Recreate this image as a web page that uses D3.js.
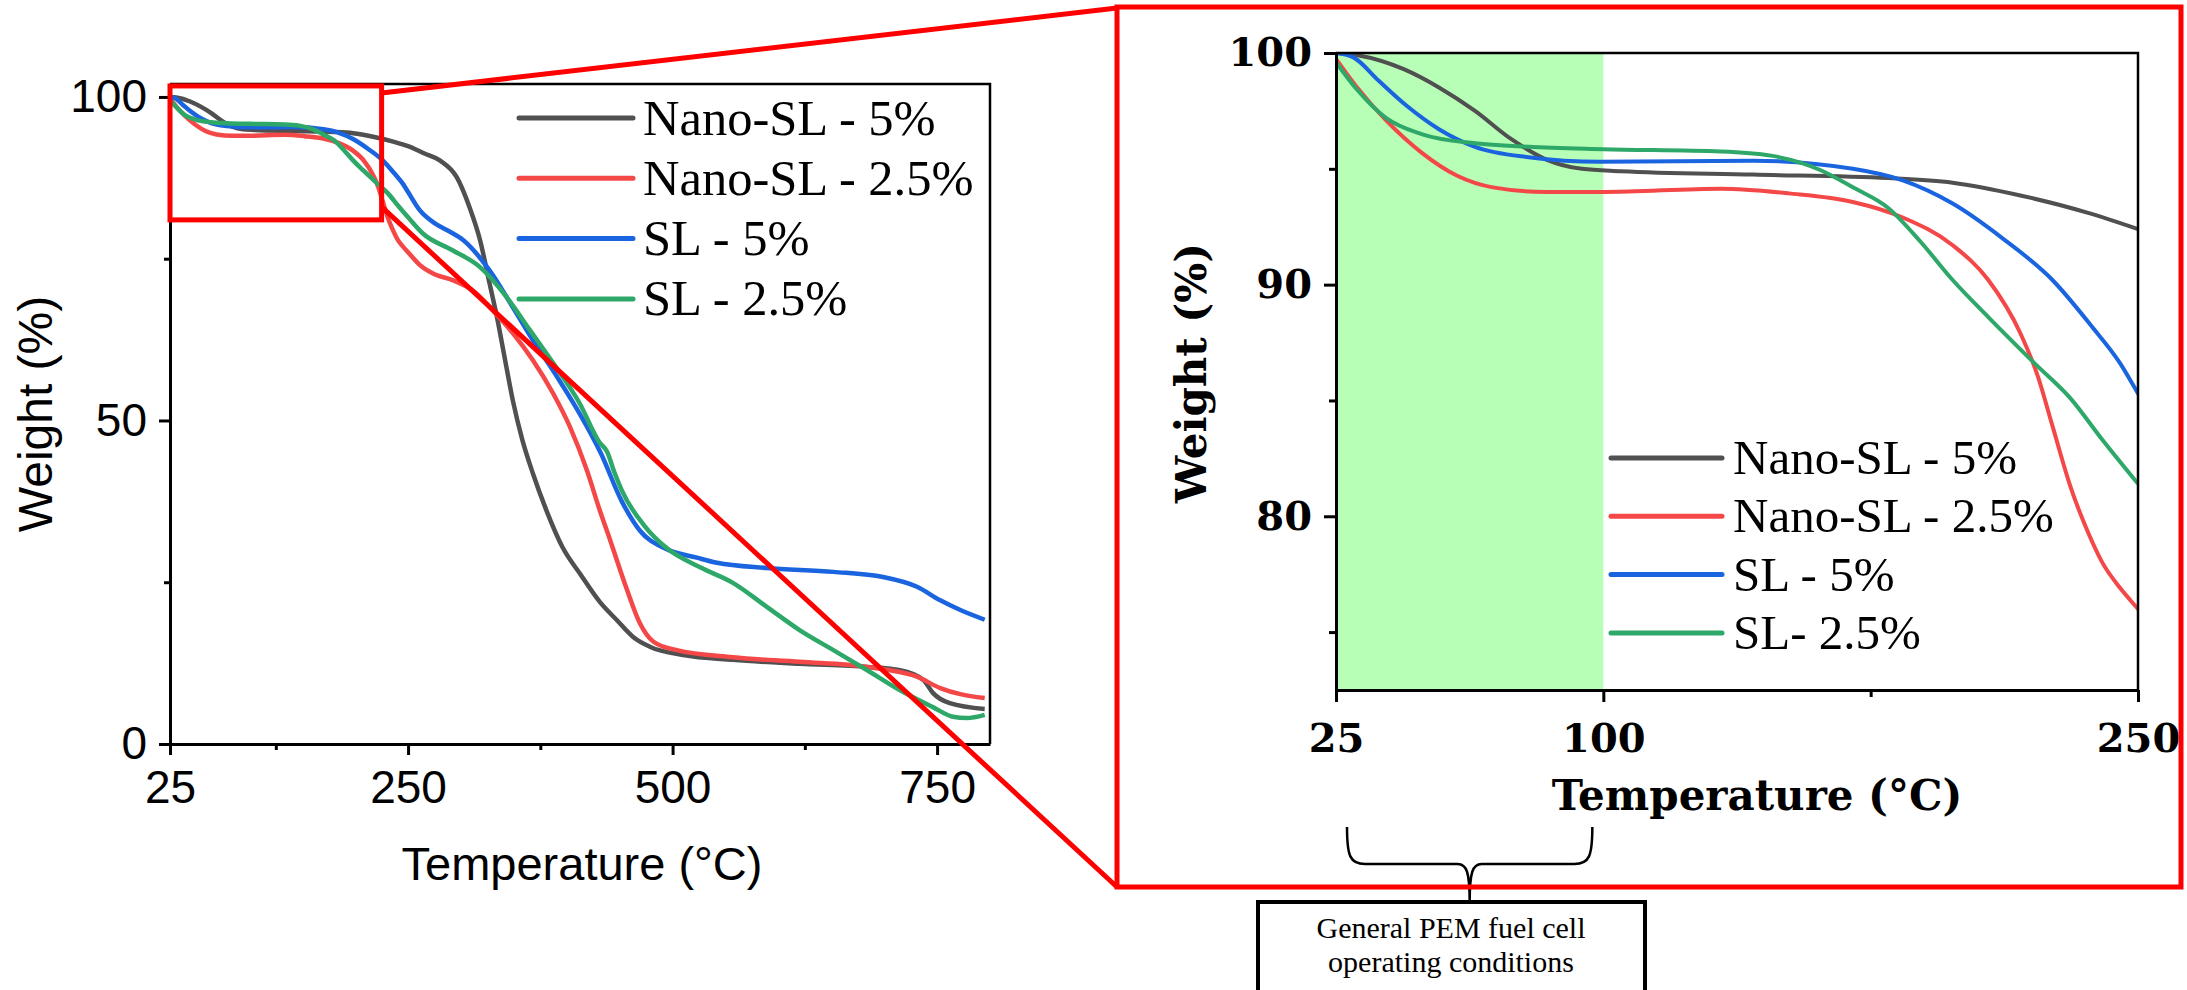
<!DOCTYPE html>
<html>
<head>
<meta charset="utf-8">
<script src="https://cdn.jsdelivr.net/npm/d3@7"></script>
<style>
  body { margin: 0; background: #fff; }
</style>
</head>
<body>
<svg id="chart" width="2187" height="990"></svg>
<script>
// series: [temperature (°C), weight (%)]
const seriesNames = ['Nano-SL - 5%', 'Nano-SL - 2.5%', 'SL - 5%', 'SL - 2.5%'];
const insetNames = ['Nano-SL - 5%', 'Nano-SL - 2.5%', 'SL - 5%', 'SL- 2.5%'];
const seriesColors = ['#505050', '#f44848', '#1a64e0', '#2ea868'];

const nanoSL5 = [[25,100],[31,99.9],[44,99.3],[54,98.5],[64,97.5],[74,96.3],[84,95.4],[94,95.0],[105,94.9],
  [142,94.75],[180,94.6],[198,94.4],[217,93.85],[236,93.1],[250,92.4],[265,91.3],[280,90.2],[296,87.6],
  [308,83.0],[318,77.9],[327,71.2],[334,66.0],[343,58.2],[349,53.1],[358,47.0],[368,41.8],[381,36.0],
  [396,30.4],[413,26.2],[431,22.0],[447,19.2],[463,16.5],[479,15.0],[510,13.75],[557,13.0],[620,12.4],
  [684,11.9],[715,11.4],[737,9.9],[746,7.9],[762,6.3],[795,5.4]];

const nanoSL25 = [[25,99.75],[31,98.5],[39,97.1],[49,95.7],[59,94.7],[69,94.2],[84,94.0],[100,94.0],[133,94.14],
  [152,93.94],[170,93.57],[184,92.9],[198,91.7],[208,90.2],[217,87.9],[222,86.0],[226,83.9],[231,81.3],
  [236,79.3],[240,78.0],[245,76.9],[250,76.0],[262,73.9],[275,72.6],[292,71.7],[311,70.1],[330,67.0],[349,63.5],
  [368,59.3],[387,54.2],[403,49.0],[419,42.3],[431,36.2],[441,31.5],[457,23.8],[469,18.7],[482,15.8],
  [504,14.5],[557,13.4],[620,12.7],[684,11.9],[731,10.4],[753,8.65],[772,7.7],[795,7.1]];

const sl5 = [[25,100],[30,99.8],[37,98.8],[45,97.7],[54,96.7],[64,95.95],[79,95.5],[99,95.3],[142,95.35],
  [170,95.0],[184,94.5],[198,93.5],[212,92.0],[226,90.2],[237,88.2],[245,86.6],[250,85.3],[261,82.5],
  [275,80.5],[287,79.4],[302,77.9],[327,73.2],[349,67.5],[368,62.4],[391,56.7],[412,51.1],[432,45.0],
  [452,37.5],[469,33.0],[493,30.2],[523,28.8],[542,28.0],[589,27.2],[652,26.6],[699,25.8],[731,24.3],
  [753,22.2],[772,20.7],[795,19.2]];

const sl25 = [[25,99.6],[31,98.4],[39,97.2],[49,96.5],[64,96.1],[79,95.95],[100,95.85],[133,95.75],[147,95.57],
  [161,94.94],[170,94.2],[180,93.3],[189,91.85],[198,90.2],[208,88.6],[221,86.6],[231,85.1],[240,83.3],
  [250,81.4],[264,78.9],[292,76.3],[318,73.7],[343,69.1],[365,64.0],[387,58.9],[412,52.7],[431,46.6],
  [438,45.2],[445,42.0],[452,39.2],[474,33.6],[495,30.2],[526,27.3],[557,24.9],[589,21.2],[620,17.6],
  [652,14.5],[684,11.4],[715,8.3],[746,5.7],[765,4.2],[778,4.0],[795,4.5]];

const allSeries = [nanoSL5, nanoSL25, sl5, sl25];

const xTicksMain = [25, 250, 500, 750];
const xMinorMain = [125, 375, 625];
const yTicksMain = [0, 50, 100];
const yMinorMain = [25, 75];

const xTicksInset = [25, 100, 250];
const xMinorInset = [175];
const yTicksInset = [80, 90, 100];
const yMinorInset = [75, 85, 95];

// PEM operating window and the zoomed region of the main plot
const pemRange = [25, 100];
const zoomBox = { t0: 25, t1: 225, w0: 81, w1: 101.7 };

const sansFont = '"Liberation Sans", Arial, sans-serif';
const serifFont = '"Liberation Serif", "Times New Roman", serif';
const boldSerif = '"DejaVu Serif", Georgia, serif';

const svg = d3.select('#chart');
const defs = svg.append('defs');

// ---------- main plot ----------
const xL = d3.scaleLinear().domain([25, 800]).range([170, 990]);
const yL = d3.scaleLinear().domain([0, 102]).range([744, 84]);

defs.append('clipPath').attr('id', 'clipL').append('rect')
  .attr('x', 170).attr('y', 84).attr('width', 820).attr('height', 660);

const lineL = d3.line().x(d => xL(d[0])).y(d => yL(d[1])).curve(d3.curveMonotoneX);

const gL = svg.append('g');
gL.append('g').attr('clip-path', 'url(#clipL)')
  .selectAll('path')
  .data(allSeries)
  .enter()
  .append('path')
  .attr('fill', 'none')
  .attr('stroke', (d, i) => seriesColors[i])
  .attr('stroke-width', 4.5)
  .attr('stroke-linejoin', 'round')
  .attr('d', lineL);

// frame top / right
gL.append('path')
  .attr('d', `M170,84H990V744`)
  .attr('fill', 'none').attr('stroke', '#000').attr('stroke-width', 2.5);

function styleAxis(g, font, size, weight) {
  g.select('.domain').attr('stroke', '#000').attr('stroke-width', 3);
  g.selectAll('.tick line').attr('stroke', '#000').attr('stroke-width', 3);
  g.selectAll('.tick text')
    .attr('fill', '#000')
    .attr('font-family', font)
    .attr('font-size', size)
    .attr('font-weight', weight);
}

const axBL = gL.append('g').attr('transform', 'translate(0,744)')
  .call(d3.axisBottom(xL).tickValues(xTicksMain).tickSize(11).tickSizeOuter(0).tickPadding(15).tickFormat(d3.format('d')));
styleAxis(axBL, sansFont, 46, 'normal');
const axBLm = gL.append('g').attr('transform', 'translate(0,744)')
  .call(d3.axisBottom(xL).tickValues(xMinorMain).tickSize(6).tickFormat(''));
axBLm.select('.domain').remove();
axBLm.selectAll('.tick line').attr('stroke-width', 3);

const axLL = gL.append('g').attr('transform', 'translate(170,0)')
  .call(d3.axisLeft(yL).tickValues(yTicksMain).tickSize(11).tickSizeOuter(0).tickPadding(12).tickFormat(d3.format('d')));
styleAxis(axLL, sansFont, 46, 'normal');
const axLLm = gL.append('g').attr('transform', 'translate(170,0)')
  .call(d3.axisLeft(yL).tickValues(yMinorMain).tickSize(6).tickFormat(''));
axLLm.select('.domain').remove();
axLLm.selectAll('.tick line').attr('stroke-width', 3);

gL.append('text')
  .attr('x', 582).attr('y', 880)
  .attr('text-anchor', 'middle')
  .attr('font-family', sansFont).attr('font-size', 47)
  .text('Temperature (°C)');

gL.append('text')
  .attr('transform', 'translate(52,414) rotate(-90)')
  .attr('text-anchor', 'middle')
  .attr('font-family', sansFont).attr('font-size', 48)
  .text('Weight (%)');

const legL = gL.append('g');
seriesNames.forEach((name, i) => {
  const yy = 118 + i * 60.3;
  legL.append('line')
    .attr('x1', 519).attr('x2', 633).attr('y1', yy).attr('y2', yy)
    .attr('stroke', seriesColors[i]).attr('stroke-width', 5).attr('stroke-linecap', 'round');
  legL.append('text')
    .attr('x', 643).attr('y', yy + 16.5)
    .attr('font-family', serifFont).attr('font-size', 50.5)
    .text(name);
});

// ---------- inset plot ----------
const xR = d3.scaleLinear().domain([25, 250]).range([1336, 2138]);
const yR = d3.scaleLinear().domain([72.5, 100]).range([690, 53]);

defs.append('clipPath').attr('id', 'clipR').append('rect')
  .attr('x', 1336).attr('y', 53).attr('width', 802).attr('height', 637);

const gR = svg.append('g');

gR.append('rect')
  .attr('x', xR(pemRange[0])).attr('y', yR(100))
  .attr('width', xR(pemRange[1]) - xR(pemRange[0]))
  .attr('height', yR(72.5) - yR(100))
  .attr('fill', '#b7feb7');

const lineR = d3.line().x(d => xR(d[0])).y(d => yR(d[1])).curve(d3.curveMonotoneX);
gR.append('g').attr('clip-path', 'url(#clipR)')
  .selectAll('path')
  .data(allSeries.map(s => s.filter(d => d[0] <= 262)))
  .enter()
  .append('path')
  .attr('fill', 'none')
  .attr('stroke', (d, i) => seriesColors[i])
  .attr('stroke-width', 4)
  .attr('stroke-linejoin', 'round')
  .attr('d', lineR);

gR.append('path')
  .attr('d', `M1336,53H2138V690`)
  .attr('fill', 'none').attr('stroke', '#000').attr('stroke-width', 2.5);

const axBR = gR.append('g').attr('transform', 'translate(0,690)')
  .call(d3.axisBottom(xR).tickValues(xTicksInset).tickSize(12).tickSizeOuter(0).tickPadding(22).tickFormat(d3.format('d')));
styleAxis(axBR, boldSerif, 40, 'bold');
const axBRm = gR.append('g').attr('transform', 'translate(0,690)')
  .call(d3.axisBottom(xR).tickValues(xMinorInset).tickSize(7).tickFormat(''));
axBRm.select('.domain').remove();
axBRm.selectAll('.tick line').attr('stroke-width', 3);

const axLR = gR.append('g').attr('transform', 'translate(1336,0)')
  .call(d3.axisLeft(yR).tickValues(yTicksInset).tickSize(12).tickSizeOuter(0).tickPadding(12).tickFormat(d3.format('d')));
styleAxis(axLR, boldSerif, 40, 'bold');
const axLRm = gR.append('g').attr('transform', 'translate(1336,0)')
  .call(d3.axisLeft(yR).tickValues(yMinorInset).tickSize(7).tickFormat(''));
axLRm.select('.domain').remove();
axLRm.selectAll('.tick line').attr('stroke-width', 3);

gR.append('text')
  .attr('x', 1757).attr('y', 810)
  .attr('text-anchor', 'middle')
  .attr('font-family', boldSerif).attr('font-weight', 'bold').attr('font-size', 42)
  .text('Temperature (°C)');

gR.append('text')
  .attr('transform', 'translate(1206,373) rotate(-90)')
  .attr('text-anchor', 'middle')
  .attr('font-family', boldSerif).attr('font-weight', 'bold').attr('font-size', 42)
  .text('Weight (%)');

const legR = gR.append('g');
insetNames.forEach((name, i) => {
  const yy = 458 + i * 58.3;
  legR.append('line')
    .attr('x1', 1611).attr('x2', 1722).attr('y1', yy).attr('y2', yy)
    .attr('stroke', seriesColors[i]).attr('stroke-width', 5).attr('stroke-linecap', 'round');
  legR.append('text')
    .attr('x', 1733).attr('y', yy + 16)
    .attr('font-family', serifFont).attr('font-size', 49)
    .text(name);
});

// ---------- bracket + note box ----------
const bx0 = xR(pemRange[0]) + 11;
const bx1 = xR(pemRange[1]) - 11;
const bxm = (bx0 + bx1) / 2;
svg.append('path')
  .attr('d', `M${bx0},827 C${bx0},856 ${bx0 + 3},864 ${bx0 + 18},864 L${bxm - 12},864 C${bxm - 3},864 ${bxm},872 ${bxm},902`
    + ` M${bx1},827 C${bx1},856 ${bx1 - 3},864 ${bx1 - 18},864 L${bxm + 12},864 C${bxm + 3},864 ${bxm},872 ${bxm},902`)
  .attr('fill', 'none').attr('stroke', '#000').attr('stroke-width', 2.5);

svg.append('rect')
  .attr('x', 1258).attr('y', 902).attr('width', 387).attr('height', 110)
  .attr('fill', '#fff').attr('stroke', '#000').attr('stroke-width', 4);
svg.append('text')
  .attr('x', 1451).attr('y', 938).attr('text-anchor', 'middle')
  .attr('font-family', serifFont).attr('font-size', 30)
  .text('General PEM fuel cell');
svg.append('text')
  .attr('x', 1451).attr('y', 972).attr('text-anchor', 'middle')
  .attr('font-family', serifFont).attr('font-size', 30)
  .text('operating conditions');

// ---------- zoom annotation in red ----------
const red = '#ff0000';
const zx0 = xL(zoomBox.t0), zx1 = xL(zoomBox.t1);
const zy0 = yL(zoomBox.w1), zy1 = yL(zoomBox.w0);
svg.append('rect')
  .attr('x', zx0).attr('y', zy0).attr('width', zx1 - zx0).attr('height', zy1 - zy0)
  .attr('fill', 'none').attr('stroke', red).attr('stroke-width', 5);

const frame = { x0: 1117, y0: 7, x1: 2181, y1: 887 };
svg.append('line')
  .attr('x1', zx1).attr('y1', zy0 + 7).attr('x2', frame.x0).attr('y2', frame.y0 + 1)
  .attr('stroke', red).attr('stroke-width', 5);
svg.append('line')
  .attr('x1', zx1).attr('y1', zy1 - 13).attr('x2', frame.x0).attr('y2', frame.y1)
  .attr('stroke', red).attr('stroke-width', 5);
svg.append('rect')
  .attr('x', frame.x0).attr('y', frame.y0)
  .attr('width', frame.x1 - frame.x0).attr('height', frame.y1 - frame.y0)
  .attr('fill', 'none').attr('stroke', red).attr('stroke-width', 5);
</script>
</body>
</html>
